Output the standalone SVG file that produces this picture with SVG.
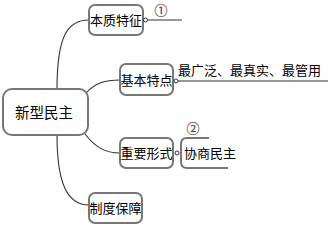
<svg xmlns="http://www.w3.org/2000/svg" width="329" height="226" viewBox="0 0 329 226">
<style>
.box{fill:#fff;stroke:#777;stroke-width:2}
.t{font-family:"Noto Sans CJK SC","Noto Sans CJK JP",sans-serif;font-size:13px;fill:#000}
.c{fill:none;stroke:#333;stroke-width:1.1}
.knob{fill:#fff;stroke:#333;stroke-width:1}
.num{font-family:"Noto Sans CJK SC","Noto Sans CJK JP",sans-serif;font-size:13px;fill:#1f4fb0;stroke:#e8a040;stroke-width:0.4;paint-order:stroke}
</style>
<rect width="329" height="226" fill="#fff"/>
<g id="connectors">
<path class="c" d="M57,89 C57,35 68,20 89,20"/>
<path class="c" d="M86,93 C95,83 105,80 120,80"/>
<path class="c" d="M85,134 C95,147 105,153 120,153"/>
<path class="c" d="M57,135 C57,185 68,205 89,205"/>
<line class="c" x1="148" y1="20" x2="182" y2="20"/>
<line class="c" x1="178" y1="81" x2="328" y2="81"/>
</g>
<g id="root">
<rect class="box" x="3" y="89" width="85" height="46" rx="9"/>
<text class="t" x="44" y="118" text-anchor="middle" style="font-size:14.5px">新型民主</text>
</g>
<g id="n1">
<rect class="box" x="89" y="5" width="54" height="30" rx="6"/>
<text class="t" x="116" y="25" text-anchor="middle">本质特征</text>
<circle class="knob" cx="145.5" cy="20" r="2"/>
<text class="num" x="161" y="15" text-anchor="middle">①</text>
</g>
<g id="n2">
<rect class="box" x="120" y="64" width="53" height="31" rx="6"/>
<text class="t" x="146.5" y="85" text-anchor="middle">基本特点</text>
<circle class="knob" cx="176" cy="81" r="2"/>
<text class="t" x="178" y="75">最广泛、最真实、最管用</text>
</g>
<g id="n3">
<rect class="box" x="120" y="138" width="53" height="30" rx="6"/>
<text class="t" x="146.5" y="158" text-anchor="middle">重要形式</text>
<circle class="knob" cx="177" cy="153" r="2"/>
</g>
<g id="n3a">
<path d="M209,138 H187 Q181,138 181,144 V162 Q181,168 187,168 H228" fill="none" stroke="#777" stroke-width="2"/>
<text class="t" x="184" y="158">协商民主</text>
<text class="num" x="193" y="133" text-anchor="middle">②</text>
</g>
<g id="n4">
<rect class="box" x="89" y="193" width="53" height="30" rx="6"/>
<text class="t" x="115.5" y="213" text-anchor="middle">制度保障</text>
</g>
</svg>
